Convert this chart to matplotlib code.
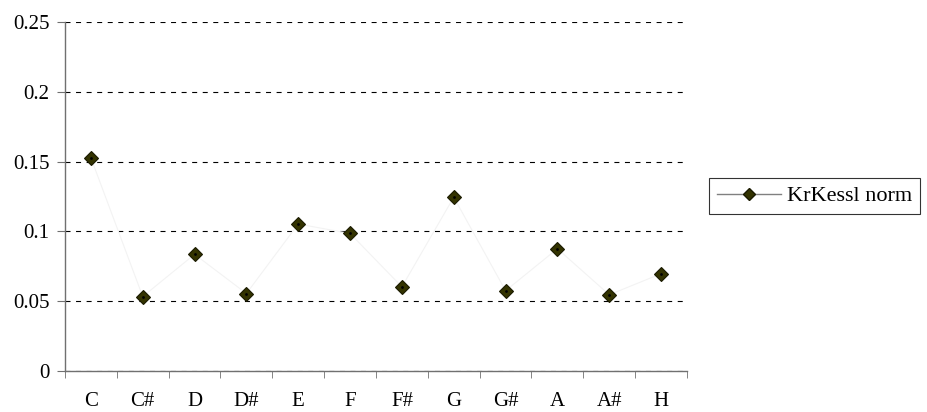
import matplotlib
matplotlib.use("Agg")
from matplotlib import pyplot as plt
from matplotlib.ticker import FixedLocator

plt.rcParams["font.family"] = ["Liberation Serif", "DejaVu Serif"]

notes = ["C", "C#", "D", "D#", "E", "F", "F#", "G", "G#", "A", "A#", "H"]
krkessl_norm = [0.1527, 0.0533, 0.0836, 0.0555, 0.1053, 0.0985, 0.0603,
                0.1245, 0.0575, 0.0876, 0.0546, 0.0697]
y_ticks = [0, 0.05, 0.1, 0.15, 0.2, 0.25]
y_labels = ["0", "0.05", "0.1", "0.15", "0.2", "0.25"]

fig = plt.figure(figsize=(9.28, 4.12), dpi=100)
ax = fig.add_axes([65 / 928, 41 / 412, 622 / 928, 349 / 412])

x = range(len(notes))
ax.plot(x, krkessl_norm, color="#f3f3f3", linewidth=0.8,
        marker="D", markersize=7, markerfacecolor="#333300",
        markeredgecolor="#1a1a00", markeredgewidth=0.8,
        label="KrKessl norm", zorder=3)
# tiny black centre dot on each marker
ax.plot(x, krkessl_norm, linestyle="none", marker=".", markersize=2,
        color="black", zorder=4)

ax.set_xlim(-0.5, len(notes) - 0.5)
ax.set_ylim(0, 0.25)
ax.set_yticks(y_ticks)
ax.set_yticklabels(y_labels)
ax.set_xticks(list(x))
ax.set_xticklabels(notes)
ax.xaxis.set_minor_locator(FixedLocator([i - 0.5 for i in range(len(notes) + 1)]))

ax.tick_params(axis="x", which="major", length=0, pad=15, labelsize=15)
ax.tick_params(axis="x", which="minor", length=5, direction="out", color="#707070")
ax.tick_params(axis="y", which="major", length=6, direction="out", color="#707070",
               labelsize=15, pad=5)

ax.grid(axis="y", color="black", linestyle=(0, (4.5, 5)), linewidth=0.8)
ax.set_axisbelow(True)
for side in ("top", "right"):
    ax.spines[side].set_visible(False)
for side in ("left", "bottom"):
    ax.spines[side].set_color("#707070")
    ax.spines[side].set_linewidth(1.0)

h_line = plt.Line2D([], [], color="#808080", linewidth=1.0, marker="D",
                    markersize=6, markerfacecolor="#333300",
                    markeredgecolor="#1a1a00")
leg = fig.legend([h_line], ["KrKessl norm"], loc="center left",
                 bbox_to_anchor=(709 / 928, (412 - 196) / 412),
                 frameon=True, fancybox=False, fontsize=16,
                 handlelength=2.9, borderpad=0.35, handletextpad=0.25,
                 borderaxespad=0)
leg.get_frame().set_edgecolor("black")
leg.get_frame().set_linewidth(0.8)

plt.savefig("out.png", dpi=100)
